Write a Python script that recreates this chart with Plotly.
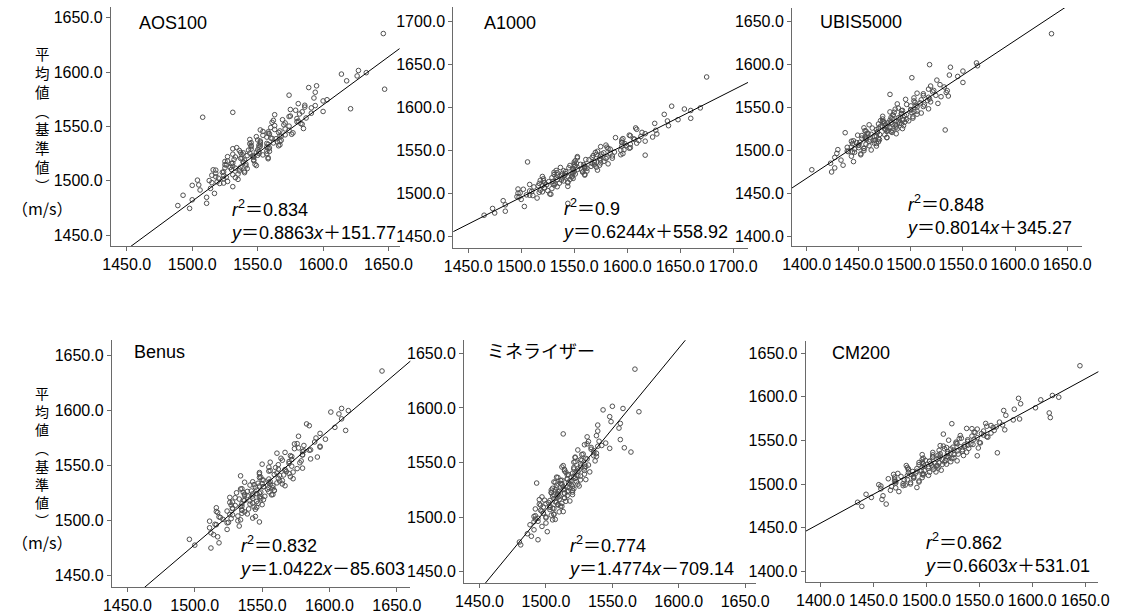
import plotly.graph_objects as go

W, H = 1129, 614
FONT = "Liberation Sans, Arial, Noto Sans CJK JP, sans-serif"
CJK = "Noto Sans CJK JP, sans-serif"

# ---------------- data ----------------
# reference mean (y axis, shared by all six panels)
ref_mean = [1474.6, 1477.2, 1479.3, 1482.5, 1484.8, 1486.7, 1488.4, 1491.5, 1493.0, 1494.6,
            1496.2, 1497.5, 1498.3, 1499.4, 1500.6, 1501.8, 1502.9, 1503.7, 1504.8, 1505.6,
            1506.9, 1507.5, 1508.2, 1509.1, 1509.8, 1510.4, 1511.2, 1511.9, 1512.6, 1513.3,
            1514.0, 1514.8, 1515.5, 1516.3, 1517.0, 1517.8, 1518.5, 1519.1, 1519.7, 1520.3,
            1520.9, 1521.6, 1522.2, 1522.9, 1523.5, 1524.1, 1524.8, 1525.4, 1526.0, 1526.7,
            1527.3, 1527.9, 1528.5, 1529.2, 1529.8, 1530.5, 1531.2, 1531.8, 1532.5, 1533.1,
            1533.8, 1534.4, 1535.1, 1535.9, 1536.6, 1537.3, 1538.0, 1538.7, 1539.4, 1540.2,
            1541.0, 1541.9, 1542.8, 1543.6, 1544.5, 1545.4, 1546.3, 1547.2, 1548.1, 1549.0,
            1550.3, 1551.5, 1552.6, 1553.8, 1555.0, 1556.2, 1557.3, 1558.5, 1559.6, 1560.8,
            1562.2, 1563.5, 1564.9, 1566.3, 1567.8, 1569.2, 1571.0, 1573.5, 1576.2, 1578.8,
            1581.5, 1584.3, 1587.4, 1592.0, 1596.5, 1598.2, 1599.5, 1601.5, 1635.5, 1563.0,
            1495.8, 1497.9, 1499.0, 1500.2, 1501.3, 1502.4, 1503.3, 1505.1, 1506.2, 1507.8,
            1508.9, 1510.1, 1510.9, 1511.6, 1512.3, 1513.7, 1514.5, 1515.2, 1516.0, 1517.4,
            1518.2, 1519.4, 1520.6, 1521.3, 1521.9, 1522.6, 1523.2, 1523.8, 1524.5, 1525.1,
            1525.7, 1526.4, 1527.1, 1528.2, 1529.5, 1530.2, 1530.9, 1531.5, 1532.2, 1532.8,
            1533.5, 1534.1, 1534.8, 1535.5, 1536.3, 1537.6, 1539.0, 1540.6, 1541.4, 1542.3,
            1543.2, 1544.1, 1545.0, 1545.9, 1546.8, 1547.7, 1550.8, 1552.1, 1553.2, 1554.4,
            1555.6, 1557.8, 1559.1, 1561.5, 1563.8, 1565.6, 1567.1, 1569.5, 1574.6, 1585.8]

aos100 = [1498, 1489, 1511, 1500, 1511, 1493, 1517, 1506, 1514, 1531,
          1505, 1521, 1515, 1527, 1504, 1524, 1533, 1518, 1524, 1531,
          1518, 1540, 1524, 1536, 1518, 1530, 1542, 1525, 1537, 1531,
          1549, 1525, 1541, 1531, 1539, 1525, 1547, 1540, 1532, 1558,
          1538, 1547, 1527, 1546, 1550, 1538, 1557, 1544, 1537, 1551,
          1557, 1536, 1550, 1545, 1558, 1534, 1557, 1552, 1545, 1567,
          1552, 1557, 1545, 1565, 1552, 1568, 1544, 1564, 1560, 1557,
          1568, 1554, 1576, 1558, 1566, 1554, 1574, 1563, 1585, 1560,
          1574, 1570, 1583, 1561, 1581, 1569, 1580, 1508, 1575, 1563,
          1591, 1584, 1579, 1621, 1586, 1594, 1581, 1600, 1593, 1574,
          1594, 1647, 1595, 1618, 1626, 1614, 1633, 1627, 1646, 1531,
          1500, 1524, 1519, 1513, 1535, 1520, 1526, 1515, 1535, 1523,
          1540, 1516, 1536, 1533, 1529, 1541, 1526, 1548, 1530, 1539,
          1527, 1547, 1537, 1558, 1533, 1547, 1542, 1554, 1531, 1551,
          1539, 1549, 1559, 1543, 1531, 1559, 1551, 1545, 1566, 1551,
          1558, 1544, 1562, 1552, 1567, 1550, 1561, 1549, 1567, 1571,
          1559, 1577, 1558, 1567, 1552, 1571, 1563, 1584, 1571, 1580,
          1562, 1587, 1574, 1582, 1600, 1575, 1591, 1586, 1603, 1589]

a1000 = [1465, 1475, 1485, 1473, 1503, 1485, 1544, 1483, 1500, 1515,
         1496, 1511, 1505, 1527, 1499, 1520, 1508, 1518, 1502, 1529,
         1522, 1512, 1544, 1520, 1531, 1508, 1530, 1536, 1522, 1544,
         1530, 1521, 1538, 1546, 1521, 1539, 1533, 1548, 1520, 1548,
         1541, 1534, 1560, 1542, 1549, 1534, 1558, 1542, 1562, 1533,
         1557, 1553, 1549, 1562, 1545, 1571, 1550, 1560, 1546, 1569,
         1556, 1582, 1552, 1569, 1506, 1578, 1551, 1575, 1561, 1574,
         1586, 1567, 1553, 1586, 1617, 1571, 1596, 1578, 1588, 1572,
         1594, 1584, 1602, 1581, 1595, 1580, 1603, 1609, 1595, 1617,
         1595, 1606, 1589, 1613, 1602, 1628, 1614, 1627, 1608, 1639,
         1626, 1638, 1660, 1635, 1660, 1654, 1669, 1642, 1675, 1607,
         1498, 1508, 1528, 1497, 1517, 1510, 1525, 1497, 1522, 1534,
         1516, 1524, 1532, 1517, 1544, 1526, 1540, 1518, 1534, 1549,
         1529, 1544, 1538, 1560, 1531, 1551, 1539, 1548, 1531, 1558,
         1550, 1540, 1572, 1549, 1560, 1537, 1560, 1566, 1551, 1574,
         1559, 1550, 1567, 1575, 1550, 1569, 1564, 1580, 1553, 1581,
         1575, 1568, 1594, 1576, 1584, 1570, 1597, 1582, 1603, 1575,
         1599, 1598, 1595, 1611, 1596, 1624, 1603, 1617, 1609, 1648]

ubis5000 = [1424, 1405, 1427, 1435, 1423, 1445, 1433, 1427, 1443, 1452,
            1429, 1446, 1440, 1455, 1430, 1455, 1450, 1443, 1467, 1450,
            1457, 1444, 1465, 1451, 1469, 1443, 1464, 1461, 1457, 1469,
            1453, 1477, 1457, 1467, 1453, 1475, 1462, 1486, 1458, 1437,
            1468, 1481, 1457, 1478, 1533, 1476, 1487, 1469, 1455, 1486,
            1477, 1471, 1493, 1476, 1485, 1469, 1489, 1478, 1494, 1474,
            1486, 1471, 1492, 1496, 1482, 1502, 1481, 1490, 1473, 1494,
            1483, 1506, 1491, 1501, 1480, 1506, 1492, 1500, 1517, 1488,
            1506, 1500, 1513, 1487, 1509, 1519, 1503, 1510, 1518, 1503,
            1529, 1512, 1480, 1506, 1521, 1535, 1517, 1532, 1528, 1550,
            1525, 1501, 1537, 1550, 1538, 1564, 1518, 1563, 1635, 1536,
            1452, 1444, 1439, 1462, 1446, 1455, 1439, 1460, 1450, 1467,
            1448, 1460, 1445, 1466, 1470, 1457, 1477, 1456, 1465, 1449,
            1470, 1459, 1482, 1468, 1477, 1456, 1482, 1467, 1475, 1492,
            1463, 1480, 1473, 1486, 1460, 1482, 1491, 1475, 1481, 1488,
            1473, 1498, 1480, 1493, 1473, 1488, 1502, 1483, 1496, 1491,
            1510, 1484, 1503, 1491, 1500, 1485, 1512, 1505, 1496, 1526,
            1504, 1516, 1495, 1517, 1524, 1512, 1534, 1522, 1519, 1545]

benus = [1512, 1500, 1518, 1496, 1517, 1514, 1512, 1524, 1511, 1533,
         1515, 1524, 1548, 1532, 1521, 1543, 1518, 1532, 1528, 1539,
         1517, 1537, 1524, 1535, 1545, 1528, 1516, 1544, 1535, 1530,
         1550, 1535, 1543, 1528, 1546, 1537, 1551, 1533, 1543, 1530,
         1548, 1552, 1539, 1557, 1537, 1546, 1531, 1549, 1539, 1559,
         1546, 1554, 1535, 1558, 1545, 1551, 1567, 1541, 1556, 1550,
         1561, 1537, 1556, 1565, 1550, 1555, 1562, 1548, 1571, 1534,
         1566, 1548, 1561, 1573, 1555, 1567, 1562, 1580, 1555, 1572,
         1562, 1570, 1556, 1579, 1572, 1564, 1591, 1571, 1580, 1561,
         1580, 1585, 1574, 1593, 1581, 1574, 1589, 1597, 1577, 1593,
         1612, 1604, 1583, 1609, 1607, 1601, 1614, 1609, 1639, 1581,
         1516, 1525, 1511, 1534, 1527, 1519, 1545, 1526, 1535, 1516,
         1535, 1540, 1528, 1546, 1534, 1527, 1541, 1547, 1526, 1541,
         1536, 1549, 1526, 1549, 1543, 1537, 1558, 1543, 1548, 1536,
         1555, 1542, 1559, 1534, 1555, 1551, 1548, 1558, 1544, 1565,
         1547, 1555, 1543, 1563, 1551, 1573, 1549, 1563, 1559, 1570,
         1548, 1568, 1556, 1567, 1576, 1560, 1550, 1578, 1570, 1565,
         1586, 1572, 1580, 1567, 1586, 1577, 1593, 1576, 1590, 1585]

mineralyzer = [1481, 1480, 1494, 1489, 1486, 1501, 1491, 1497, 1488, 1500,
               1494, 1505, 1492, 1500, 1491, 1504, 1506, 1498, 1510, 1497,
               1503, 1492, 1505, 1498, 1512, 1503, 1509, 1495, 1512, 1502,
               1507, 1518, 1499, 1510, 1506, 1514, 1497, 1510, 1516, 1506,
               1509, 1514, 1504, 1520, 1509, 1517, 1504, 1513, 1521, 1508,
               1516, 1513, 1525, 1508, 1519, 1512, 1493, 1507, 1523, 1518,
               1512, 1530, 1516, 1522, 1508, 1521, 1524, 1516, 1529, 1520,
               1515, 1524, 1529, 1514, 1524, 1521, 1530, 1513, 1529, 1526,
               1521, 1537, 1526, 1530, 1522, 1536, 1527, 1538, 1564, 1536,
               1534, 1559, 1539, 1529, 1545, 1532, 1556, 1531, 1513, 1539,
               1555, 1539, 1549, 1548, 1570, 1543, 1558, 1550, 1567, 1548,
               1491, 1507, 1494, 1500, 1492, 1506, 1498, 1513, 1496, 1506,
               1503, 1511, 1496, 1509, 1500, 1508, 1515, 1503, 1495, 1514,
               1509, 1505, 1520, 1509, 1514, 1504, 1516, 1510, 1520, 1507,
               1514, 1505, 1518, 1520, 1512, 1524, 1511, 1517, 1506, 1519,
               1511, 1526, 1516, 1522, 1509, 1526, 1517, 1522, 1533, 1514,
               1525, 1521, 1529, 1512, 1526, 1532, 1522, 1527, 1531, 1522,
               1538, 1528, 1536, 1524, 1534, 1542, 1531, 1540, 1538, 1556]

cm200 = [1439, 1462, 1435, 1458, 1448, 1459, 1443, 1474, 1466, 1457,
         1491, 1467, 1478, 1455, 1478, 1485, 1471, 1493, 1479, 1470,
         1488, 1496, 1470, 1488, 1482, 1497, 1469, 1497, 1490, 1483,
         1509, 1491, 1498, 1483, 1507, 1491, 1511, 1482, 1506, 1502,
         1498, 1510, 1493, 1519, 1497, 1508, 1493, 1517, 1503, 1529,
         1499, 1515, 1510, 1524, 1497, 1521, 1506, 1519, 1548, 1511,
         1496, 1530, 1520, 1567, 1538, 1520, 1529, 1512, 1534, 1523,
         1540, 1519, 1532, 1516, 1539, 1544, 1529, 1551, 1528, 1539,
         1521, 1545, 1533, 1558, 1543, 1554, 1516, 1561, 1545, 1554,
         1574, 1543, 1563, 1557, 1572, 1524, 1569, 1582, 1617, 1575,
         1616, 1573, 1603, 1589, 1608, 1587, 1625, 1619, 1645, 1548,
         1471, 1457, 1480, 1485, 1471, 1493, 1470, 1482, 1464, 1488,
         1476, 1502, 1486, 1496, 1473, 1503, 1487, 1495, 1514, 1483,
         1502, 1496, 1510, 1481, 1505, 1515, 1497, 1504, 1512, 1496,
         1523, 1503, 1518, 1496, 1512, 1526, 1506, 1520, 1513, 1535,
         1506, 1526, 1513, 1523, 1506, 1534, 1526, 1517, 1549, 1525,
         1536, 1513, 1536, 1542, 1528, 1550, 1539, 1531, 1548, 1557,
         1532, 1552, 1546, 1564, 1538, 1566, 1561, 1556, 1588, 1583]

device_names = ["AOS100", "A1000", "UBIS5000", "Benus", "ミネライザー", "CM200"]
device_values = [aos100, a1000, ubis5000, benus, mineralyzer, cm200]
slopes = [0.8863, 0.6244, 0.8014, 1.0422, 1.4774, 0.6603]
intercepts = [151.77, 558.92, 345.27, -85.603, -709.14, 531.01]
r_squared = ["0.834", "0.9", "0.848", "0.832", "0.774", "0.862"]
y_title = "平均値（基準値）"
y_unit = "（m/s）"

# ---------------- geometry (pixels) ----------------
panels = [
    dict(x0=103, x1=398, y0=7, y1=248, xr=[1437.8, 1658.4], yr=[1440, 1660],
         title=(130, 23), stat=(223, 222)),
    dict(x0=453, x1=754, y0=7, y1=250, xr=[1436, 1714], yr=[1436.5, 1717],
         title=(482, 23), stat=(562, 221)),
    dict(x0=799, x1=1095, y0=8, y1=248, xr=[1386, 1664], yr=[1388.5, 1665.5],
         title=(826, 22), stat=(913, 217)),
    dict(x0=104, x1=409, y0=343, y1=592, xr=[1438.4, 1660], yr=[1439, 1663.5],
         title=(125, 355), stat=(232, 561)),
    dict(x0=464, x1=762, y0=343, y1=588, xr=[1438.4, 1658], yr=[1439.5, 1662],
         title=(485, 355), stat=(568, 561)),
    dict(x0=813, x1=1112, y0=344, y1=587, xr=[1386, 1662.4], yr=[1387.8, 1663.6],
         title=(838, 356), stat=(932, 558)),
]


def px(v):
    return v / W


def py(v):
    return 1 - v / H


axis_style = dict(showline=True, linecolor="#6a6a6a", linewidth=1, ticks="outside",
                  ticklen=4, tickwidth=1, tickcolor="#6a6a6a", showgrid=False,
                  zeroline=False, tick0=1400, dtick=50, tickformat=".1f",
                  tickfont=dict(family=FONT, size=16, color="black"), fixedrange=True)

fig = go.Figure()
layout = dict(width=W, height=H, margin=dict(l=0, r=0, t=0, b=0),
              paper_bgcolor="white", plot_bgcolor="white", showlegend=False)
annotations = []

for i, p in enumerate(panels):
    n = "" if i == 0 else str(i + 1)
    xa, ya = "x" + n, "y" + n
    layout["xaxis" + n] = dict(domain=[px(p["x0"]), px(p["x1"])], range=p["xr"],
                               anchor=ya, **axis_style)
    layout["yaxis" + n] = dict(domain=[py(p["y1"]), py(p["y0"])], range=p["yr"],
                               anchor=xa, **axis_style)
    fig.add_trace(go.Scatter(
        x=device_values[i], y=ref_mean, mode="markers", xaxis=xa, yaxis=ya,
        marker=dict(symbol="circle-open", size=4.6, color="#505050", line=dict(width=1)),
        hoverinfo="skip"))
    lx = [p["xr"][0] - 30, p["xr"][1] + 30]
    ly = [slopes[i] * v + intercepts[i] for v in lx]
    fig.add_trace(go.Scatter(x=lx, y=ly, mode="lines", xaxis=xa, yaxis=ya,
                             line=dict(color="black", width=1), hoverinfo="skip"))
    annotations.append(dict(text=device_names[i], x=px(p["title"][0]), y=py(p["title"][1]),
                            xref="paper", yref="paper", xanchor="left", yanchor="middle",
                            showarrow=False, font=dict(family=FONT, size=18, color="black")))
    sign = "＋" if intercepts[i] >= 0 else "－"
    stat = ("<i>r</i><sup>2</sup>＝" + r_squared[i] + "<br>" +
            "<i>y</i>＝" + str(slopes[i]) + "<i>x</i>" + sign + str(abs(intercepts[i])))
    annotations.append(dict(text=stat, x=px(p["stat"][0]), y=py(p["stat"][1]),
                            xref="paper", yref="paper", xanchor="left", yanchor="middle",
                            align="left", showarrow=False,
                            font=dict(family=FONT, size=18, color="black")))

# vertical y-axis titles (one per row): stacked characters, unit below
vert = {"（": "︵", "）": "︶"}
stacked = "<br>".join(vert.get(ch, ch) for ch in y_title)
for center_y, size, unit_y in [(120.2, 14.5, 210), (460.7, 14, 546)]:
    annotations.append(dict(text=stacked, x=px(33), y=py(center_y),
                            xref="paper", yref="paper", xanchor="center", yanchor="middle",
                            align="center", showarrow=False,
                            font=dict(family=CJK, size=size, color="black")))
    annotations.append(dict(text=y_unit, x=px(33), y=py(unit_y),
                            xref="paper", yref="paper", xanchor="center", yanchor="middle",
                            showarrow=False, font=dict(family=CJK, size=16, color="black")))

layout["annotations"] = annotations
fig.update_layout(**layout)
fig.write_html("out.html")
